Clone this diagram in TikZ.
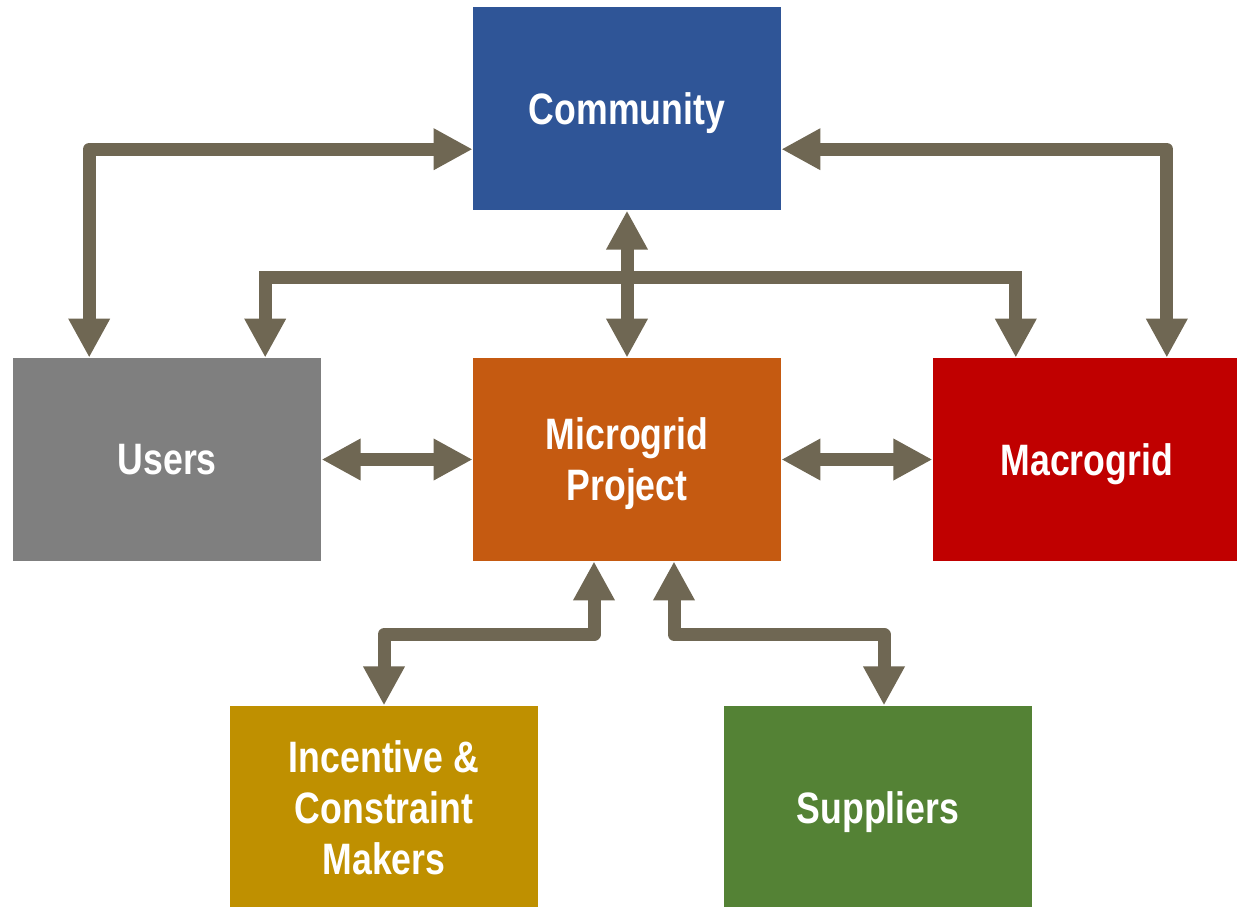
\documentclass[tikz,border=0pt]{standalone}
\usepackage{fontspec}
\setmainfont{Liberation Sans}[FakeStretch=0.81]
\usetikzlibrary{positioning,arrows.meta}

\definecolor{commblue}{HTML}{2F5597}
\definecolor{usergray}{HTML}{7F7F7F}
\definecolor{microorange}{HTML}{C55A11}
\definecolor{macrored}{HTML}{C00000}
\definecolor{incentgold}{HTML}{BF9000}
\definecolor{supplgreen}{HTML}{548235}
\definecolor{linkbrown}{HTML}{6F6753}

\begin{document}
\begin{tikzpicture}[
    box/.style={minimum width=154pt,minimum height=101.5pt,inner sep=0pt,align=center,
      text=white,text depth=0pt,font=\fontsize{22}{25.5}\selectfont\bfseries},
    link/.style={line width=6.5pt,draw=linkbrown,
      >={Triangle[width=19.5pt,length=19.5pt]},<->},
    node distance=73.5pt and 75.5pt]
  \useasboundingbox (0,0) rectangle (618.5pt,-453pt);

  % the boxes
  \node[box,fill=microorange] (micro) at (313.5pt,-229.75pt) {Microgrid\\Project};
  \node[box,fill=commblue,above=of micro] (comm) {Community};
  \node[box,fill=usergray,left=of micro] (users) {Users};
  \node[box,fill=macrored,right=of micro] (macro) {Macrogrid};
  \node[box,fill=incentgold,below=72pt of micro,xshift=-121.5pt] (incent) {Incentive \&\\Constraint\\Makers};
  \node[box,fill=supplgreen,below=72pt of micro,xshift=125.5pt] (suppl) {Suppliers};

  \coordinate (bar) at ([yshift=-33.5pt]comm.south);
  \coordinate (split) at ([yshift=-36.5pt]micro.south);

  % links
  \draw[link,line join=round] ([yshift=-20.25pt]comm.west) -| ([xshift=-39pt]users.north);
  \draw[link,line join=round] ([yshift=-20.25pt]comm.east) -| ([xshift=40pt]macro.north);
  \draw[link] ([xshift=49pt]users.north) |- (bar) -| ([xshift=-35.5pt]macro.north);
  \draw[link] (comm.south) -- (micro.north);
  \draw[link] (users.east) -- (micro.west);
  \draw[link] (micro.east) -- (macro.west);
  \draw[link,line join=round] ([xshift=-16.5pt]micro.south) -- ([xshift=-16.5pt]split) -| (incent.north);
  \draw[link,line join=round] ([xshift=23.5pt]micro.south) -- ([xshift=23.5pt]split) -| ([xshift=3pt]suppl.north);
\end{tikzpicture}
\end{document}
